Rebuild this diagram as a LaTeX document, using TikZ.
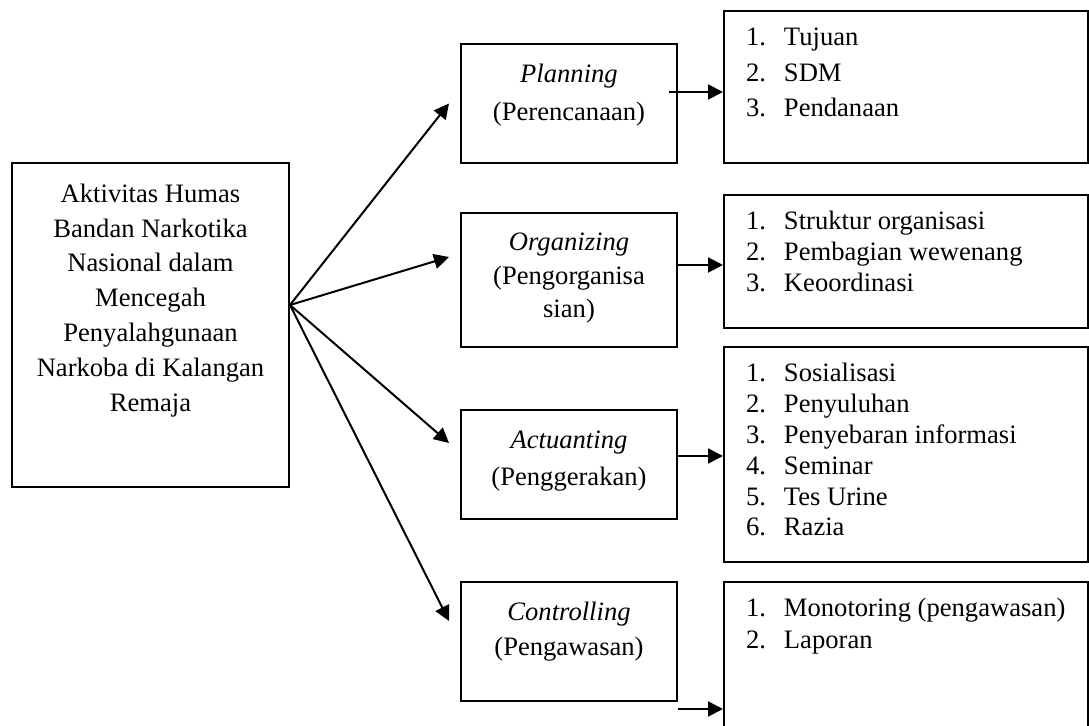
\documentclass[tikz,border=0pt]{standalone}
\usepackage{fontspec}
\setmainfont{Liberation Serif}
\usetikzlibrary{arrows.meta}
\tikzset{every picture/.style={line width=1pt}}
\tikzset{
	box/.style={draw, inner sep=0pt},
	txt/.style={inner sep=0pt, font=\fontsize{13.3pt}{#1}\selectfont},
	arr/.style={-{Triangle[length=7.5pt,width=7.5pt]}}
}
\newcommand{\itm}[1]{\makebox[19pt][l]{#1.}}

\begin{document}
\begin{tikzpicture}[x=0.5pt,y=0.5pt,yscale=-1,xscale=1]
	\useasboundingbox (0,0) rectangle (1089,726);

	%Shape: Rectangle [aktivitas]
	\node[box, minimum width=138.5pt, minimum height=162pt] (aktivitas) at (150.5,325) {};
	%Shape: Rectangle [planning]
	\node[box, minimum width=108pt, minimum height=59.5pt] (planning) at (569,103.5) {};
	%Shape: Rectangle [organizing]
	\node[box, minimum width=108pt, minimum height=67pt] (organizing) at (569,280) {};
	%Shape: Rectangle [actuanting]
	\node[box, minimum width=108pt, minimum height=54.5pt] (actuanting) at (569,464.5) {};
	%Shape: Rectangle [controlling]
	\node[box, minimum width=108pt, minimum height=59.5pt] (controlling) at (569,641.5) {};
	%Shape: Rectangle [lists]
	\node[box, minimum width=182pt, minimum height=76pt] (planlist) at (906,87) {};
	\node[box, minimum width=182pt, minimum height=66.5pt] (orglist) at (906,261.5) {};
	\node[box, minimum width=182pt, minimum height=107.5pt] (actlist) at (906,454.5) {};
	\node[box, minimum width=182pt, minimum height=84pt] (ctrllist) at (906,666) {};

	% Text Node
	\node[txt=17.4pt, align=center, anchor=north] (aktivitaslabel) at (150.5,177) {\strut Aktivitas Humas\\Bandan Narkotika\\Nasional dalam\\Mencegah\\Penyalahgunaan\\Narkoba di Kalangan\\Remaja};
	% Text Node
	\node[txt=18.75pt, align=center, anchor=north] (planninglabel) at (569,55.75) {\strut\textit{Planning}\\(Perencanaan)};
	% Text Node
	\node[txt=16.75pt, align=center, anchor=north] (organizinglabel) at (569,226.5) {\strut\textit{Organizing}\\(Pengorganisa\\sian)};
	% Text Node
	\node[txt=18.5pt, align=center, anchor=north] (actuantinglabel) at (569,422) {\strut\textit{Actuanting}\\(Penggerakan)};
	% Text Node
	\node[txt=17.5pt, align=center, anchor=north] (controllinglabel) at (569,595.5) {\strut\textit{Controlling}\\(Pengawasan)};

	% Text Node
	\node[txt=17.75pt, align=left, anchor=north west] (planitems) at (745,20) {\strut\itm{1}Tujuan\\\itm{2}SDM\\\itm{3}Pendanaan};
	% Text Node
	\node[txt=15.5pt, align=left, anchor=north west] (orgitems) at (745,207) {\strut\itm{1}Struktur organisasi\\\itm{2}Pembagian wewenang\\\itm{3}Keoordinasi};
	% Text Node
	\node[txt=15.4pt, align=left, anchor=north west] (actitems) at (745,359.4) {\strut\itm{1}Sosialisasi\\\itm{2}Penyuluhan\\\itm{3}Penyebaran informasi\\\itm{4}Seminar\\\itm{5}Tes Urine\\\itm{6}Razia};
	% Text Node
	\node[txt=16pt, align=left, anchor=north west] (ctrlitems) at (745,593.6) {\strut\itm{1}Monotoring (pengawasan)\\\itm{2}Laporan};

	% Arrows from the main box (yshift runs downwards here)
	\coordinate (hub) at ([yshift=-10pt]aktivitas.east);
	\draw[arr] (hub) -- ([xshift=-5.5pt]planning.west);
	\draw[arr] (hub) -- ([xshift=-5.5pt,yshift=-11.5pt]organizing.west);
	\draw[arr] (hub) -- ([xshift=-5.5pt,yshift=-10.75pt]actuanting.west);
	\draw[arr] (hub) -- ([xshift=-5.5pt,yshift=-10.25pt]controlling.west);

	% Arrows to the lists
	\coordinate (planout) at ([xshift=-4.5pt,yshift=-5.75pt]planning.east);
	\coordinate (orgout) at ([yshift=-7.5pt]organizing.east);
	\coordinate (actout) at ([yshift=-4.25pt]actuanting.east);
	\coordinate (ctrlout) at ([yshift=3.5pt]controlling.south east);
	\draw[arr] (planout) -- (planout -| planlist.west);
	\draw[arr] (orgout) -- (orgout -| orglist.west);
	\draw[arr] (actout) -- (actout -| actlist.west);
	\draw[arr] (ctrlout) -- (ctrlout -| ctrllist.west);

\end{tikzpicture}
\end{document}
